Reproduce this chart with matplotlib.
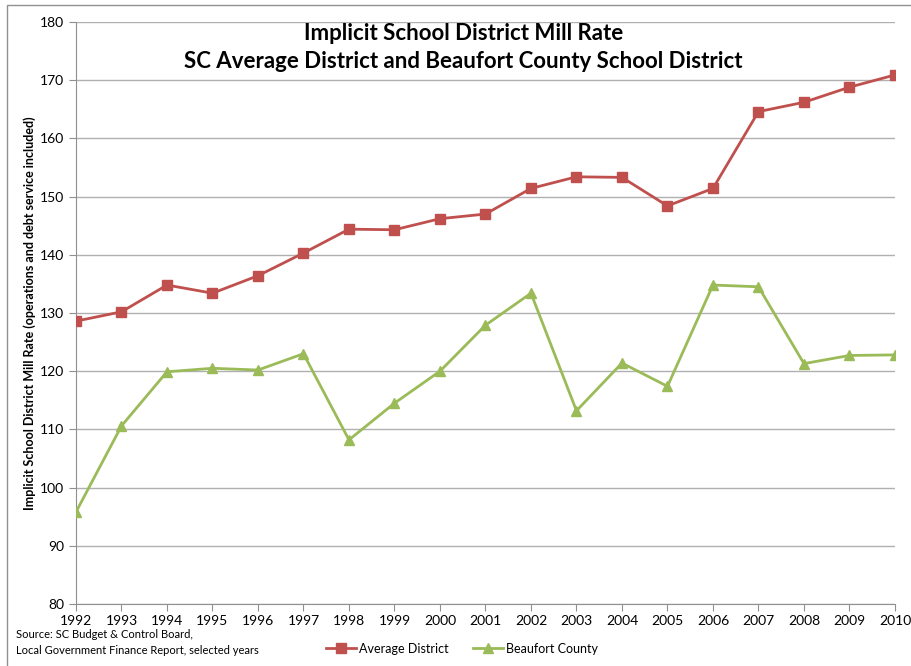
import matplotlib.pyplot as plt
from matplotlib.patches import Rectangle

# data
years = [str(y) for y in range(1992, 2011)]
average_district = [128.6, 130.2, 134.8, 133.4, 136.4, 140.3, 144.4, 144.3, 146.2, 147.0,
                    151.4, 153.4, 153.3, 148.4, 151.4, 164.6, 166.2, 168.8, 170.9]
beaufort_county = [95.8, 110.6, 119.9, 120.5, 120.2, 123.0, 108.2, 114.5, 120.0, 127.9,
                   133.4, 113.2, 121.4, 117.4, 134.8, 134.5, 121.3, 122.7, 122.8]

plt.rcParams['font.family'] = ['Lato', 'DejaVu Sans']

fig = plt.figure(figsize=(9.11, 6.66), dpi=100)
ax = fig.add_axes([0.0834, 0.0931, 0.8990, 0.8739])

x = range(len(years))
ax.plot(x, average_district, color='#C0504D', lw=2.0, marker='s', ms=7,
        label='Average District', zorder=3)
ax.plot(x, beaufort_county, color='#9BBB59', lw=2.0, marker='^', ms=7.5,
        label='Beaufort County', zorder=3)

ax.set_xlim(0, len(years) - 1)
ax.set_ylim(80, 180)
ax.set_yticks(range(80, 181, 10))
ax.set_xticks(list(x))
ax.set_xticklabels(years)
ax.grid(True, axis='y', color='#B0B0B0', lw=1.0, zorder=0)
for s in ['top', 'right']:
    ax.spines[s].set_visible(False)
for s in ['left', 'bottom']:
    ax.spines[s].set_color('#909090')
ax.tick_params(axis='both', colors='#909090', labelcolor='black', labelsize=10, length=5)
ax.tick_params(axis='x', pad=3)
ax.set_ylabel('Implicit School District Mill Rate (operations and debt service included)',
              fontsize=9, fontweight='bold', labelpad=3)

fig.text(0.509, 0.950, 'Implicit School District Mill Rate', ha='center', va='center',
         fontsize=16, fontweight='bold')
fig.text(0.509, 0.908, 'SC Average District and Beaufort County School District', ha='center',
         va='center', fontsize=16, fontweight='bold')

fig.text(0.018, 0.047, 'Source: SC Budget & Control Board,', fontsize=8, va='center')
fig.text(0.018, 0.023, 'Local Government Finance Report, selected years', fontsize=8, va='center')

fig.legend(loc='center', bbox_to_anchor=(0.507, 0.026), ncol=2, frameon=False, fontsize=9,
           handlelength=2.4, columnspacing=2.0, handletextpad=0.2)

# outer frame
fig.patches.append(Rectangle((0.008, -0.01), 1.0, 1.003, transform=fig.transFigure,
                             fill=False, edgecolor='#909090', lw=1))

fig.savefig('out.png', dpi=100)
